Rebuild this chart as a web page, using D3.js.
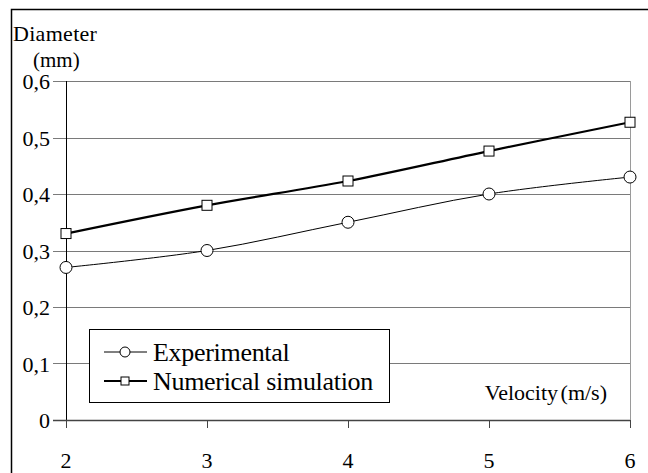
<!DOCTYPE html>
<html>
<head>
<meta charset="utf-8">
<script src="https://cdn.jsdelivr.net/npm/d3@7"></script>
</head>
<body style="margin:0; background:#fff">
<script>
const velocities = [2, 3, 4, 5, 6];
const experimental = [0.27, 0.30, 0.35, 0.40, 0.43];
const numerical = [0.33, 0.38, 0.423, 0.476, 0.527];
const yTicks = [0, 0.1, 0.2, 0.3, 0.4, 0.5, 0.6];
const seriesNames = ['Experimental', 'Numerical simulation'];

const W = 648, H = 473;
const plot = { left: 66, right: 630, top: 81, bottom: 420 };
const SERIF = 'Liberation Serif';

const svg = d3.select('body').append('svg')
    .attr('width', W)
    .attr('height', H);

// helper so every label gets the same serif face
const label = (sel, size) => sel
    .style('font-family', SERIF)
    .style('font-size', size + 'px')
    .attr('fill', '#000');

// outer frame (cut at right/bottom)
svg.append('rect')
    .attr('x', 11.5).attr('y', 9.5)
    .attr('width', W).attr('height', H)
    .attr('fill', 'none')
    .attr('stroke', '#000')
    .attr('stroke-width', 1.5);

const x = d3.scaleLinear().domain([2, 6]).range([plot.left, plot.right]);
const y = d3.scaleLinear().domain([0, 0.6]).range([plot.bottom, plot.top]);

const fmt = d => d === 0 ? '0' : d3.format('.1f')(d).replace('.', ',');

// horizontal gridlines + left ticks
svg.append('g').selectAll('line')
    .data(yTicks.filter(d => d > 0))
    .enter().append('line')
    .attr('x1', plot.left - 13).attr('x2', plot.right)
    .attr('y1', d => Math.round(y(d)) + 0.5).attr('y2', d => Math.round(y(d)) + 0.5)
    .attr('stroke', '#7a7a7a');

// right border of plot
svg.append('line')
    .attr('x1', plot.right + 0.5).attr('x2', plot.right + 0.5)
    .attr('y1', plot.top).attr('y2', plot.bottom + 8)
    .attr('stroke', '#9a9a9a');

// y axis line
svg.append('line')
    .attr('x1', plot.left + 0.5).attr('x2', plot.left + 0.5)
    .attr('y1', plot.top).attr('y2', plot.bottom)
    .attr('stroke', '#000');

// x axis line + ticks
svg.append('line')
    .attr('x1', plot.left - 13).attr('x2', plot.right)
    .attr('y1', plot.bottom + 0.5).attr('y2', plot.bottom + 0.5)
    .attr('stroke', '#444').attr('stroke-width', 1.5);

svg.append('g').selectAll('line')
    .data(velocities)
    .enter().append('line')
    .attr('x1', d => Math.round(x(d)) + 0.5).attr('x2', d => Math.round(x(d)) + 0.5)
    .attr('y1', plot.bottom).attr('y2', plot.bottom + 8)
    .attr('stroke', '#444');

// tick labels
svg.append('g').selectAll('text')
    .data(yTicks)
    .enter().append('text')
    .attr('x', 50)
    .attr('y', d => y(d) + 8)
    .attr('text-anchor', 'end')
    .call(label, 22)
    .text(fmt);

svg.append('g').selectAll('text')
    .data(velocities)
    .enter().append('text')
    .attr('x', d => x(d))
    .attr('y', 468)
    .attr('text-anchor', 'middle')
    .call(label, 22)
    .text(d => d);

// axis titles
svg.append('text')
    .attr('x', 13).attr('y', 41)
    .call(label, 22)
    .style('letter-spacing', '0.3px')
    .text('Diameter');
svg.append('text')
    .attr('x', 33).attr('y', 67)
    .call(label, 21)
    .text('(mm)');
svg.append('text')
    .attr('x', 607).attr('y', 400)
    .attr('text-anchor', 'end')
    .call(label, 22)
    .style('word-spacing', '-3px')
    .text('Velocity (m/s)');

// series
const line = d3.line()
    .x(d => x(d[0]))
    .y(d => y(d[1]))
    .curve(d3.curveCatmullRom.alpha(0.5));

const expData = velocities.map((v, i) => [v, experimental[i]]);
const numData = velocities.map((v, i) => [v, numerical[i]]);

svg.append('path')
    .datum(expData)
    .attr('d', line)
    .attr('fill', 'none')
    .attr('stroke', '#000')
    .attr('stroke-width', 1);

svg.append('path')
    .datum(numData)
    .attr('d', line)
    .attr('fill', 'none')
    .attr('stroke', '#000')
    .attr('stroke-width', 2.2);

svg.append('g').selectAll('circle')
    .data(expData)
    .enter().append('circle')
    .attr('cx', d => x(d[0]))
    .attr('cy', d => y(d[1]))
    .attr('r', 6)
    .attr('fill', '#fff')
    .attr('stroke', '#000');

svg.append('g').selectAll('rect')
    .data(numData)
    .enter().append('rect')
    .attr('x', d => x(d[0]) - 5)
    .attr('y', d => y(d[1]) - 5)
    .attr('width', 10).attr('height', 10)
    .attr('fill', '#fff')
    .attr('stroke', '#000');

// legend
const legend = svg.append('g');
legend.append('rect')
    .attr('x', 89.5).attr('y', 329.5)
    .attr('width', 300).attr('height', 73)
    .attr('fill', '#fff')
    .attr('stroke', '#000');

const rows = [352, 381];
seriesNames.forEach((name, i) => {
    const cy = rows[i];
    legend.append('line')
        .attr('x1', 104).attr('x2', 147)
        .attr('y1', cy).attr('y2', cy)
        .attr('stroke', '#000')
        .attr('stroke-width', i === 0 ? 1 : 2.2);
    if (i === 0) {
        legend.append('circle')
            .attr('cx', 125).attr('cy', cy).attr('r', 5)
            .attr('fill', '#fff').attr('stroke', '#000');
    } else {
        legend.append('rect')
            .attr('x', 121).attr('y', cy - 4)
            .attr('width', 8).attr('height', 8)
            .attr('fill', '#fff').attr('stroke', '#000');
    }
    legend.append('text')
        .attr('x', 153).attr('y', cy + 9)
        .call(label, 26)
        .style('letter-spacing', '-0.3px')
        .text(name);
});
</script>
</body>
</html>
